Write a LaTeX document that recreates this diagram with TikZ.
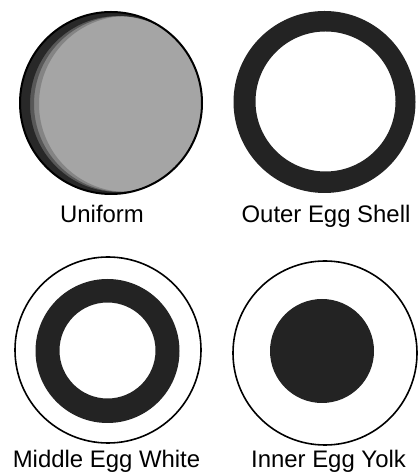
\documentclass[tikz,border=0pt]{standalone}
\usepackage{fontspec}
\setmainfont{Liberation Sans}
\usepackage{xcolor}
\usepackage{tikz}
\usetikzlibrary{positioning, calc}
\definecolor{speckle}{RGB}{165,165,165}
\definecolor{darkfill}{RGB}{35,35,35}
\tikzset{
    rim/.style={draw=black, line width=2bp},
    thinrim/.style={draw=black, line width=1.6bp},
    ringfill/.style={fill=darkfill, even odd rule},
    caption/.style={font=\fontsize{24}{28}\selectfont, anchor=base, inner sep=0pt},
}

\begin{document}
\begin{tikzpicture}[x=1bp, y=1bp]
    \useasboundingbox (0,0) rectangle (417,473);
    % centres of the four panels
    \coordinate (uni) at (111,370);
    \coordinate (shell) at (324.5,371);
    \coordinate (white) at (108,123);
    \coordinate (yolk) at (325,120);

    % uniform
    \fill[speckle] (uni) circle[radius=91];
    \begin{scope}
        \clip (uni) circle[radius=91];
        \foreach \dx/\op in {16/0.25, 11/0.45, 7/0.9} {
            \fill[darkfill, even odd rule, opacity=\op] (uni) circle[radius=91] ($(uni)+(\dx,-1)$) circle[radius=88];
        }
    \end{scope}
    \draw[rim] (uni) circle[radius=91];
    \node[caption] (unilbl) at (102,250) {Uniform};

    % outer egg shell
    \fill[ringfill] (shell) circle[radius=91] ($(shell)+(1,0.5)$) circle[radius=70];
    \node[caption] (shelllbl) at (326,250) {Outer Egg Shell};

    % middle egg white
    \draw[thinrim] (white) circle[radius=93];
    \fill[ringfill] ($(white)+(-0.5,-1)$) circle[radius=72] ($(white)+(-0.5,-0.5)$) circle[radius=48];
    \node[caption] (whitelbl) at (106.5,5) {Middle Egg White};

    % inner egg yolk
    \draw[thinrim] (yolk) circle[radius=92];
    \fill[darkfill] ($(yolk)+(-3,2)$) circle[radius=52];
    \node[caption] (yolklbl) at (328.5,5) {Inner Egg Yolk};
\end{tikzpicture}
\end{document}
